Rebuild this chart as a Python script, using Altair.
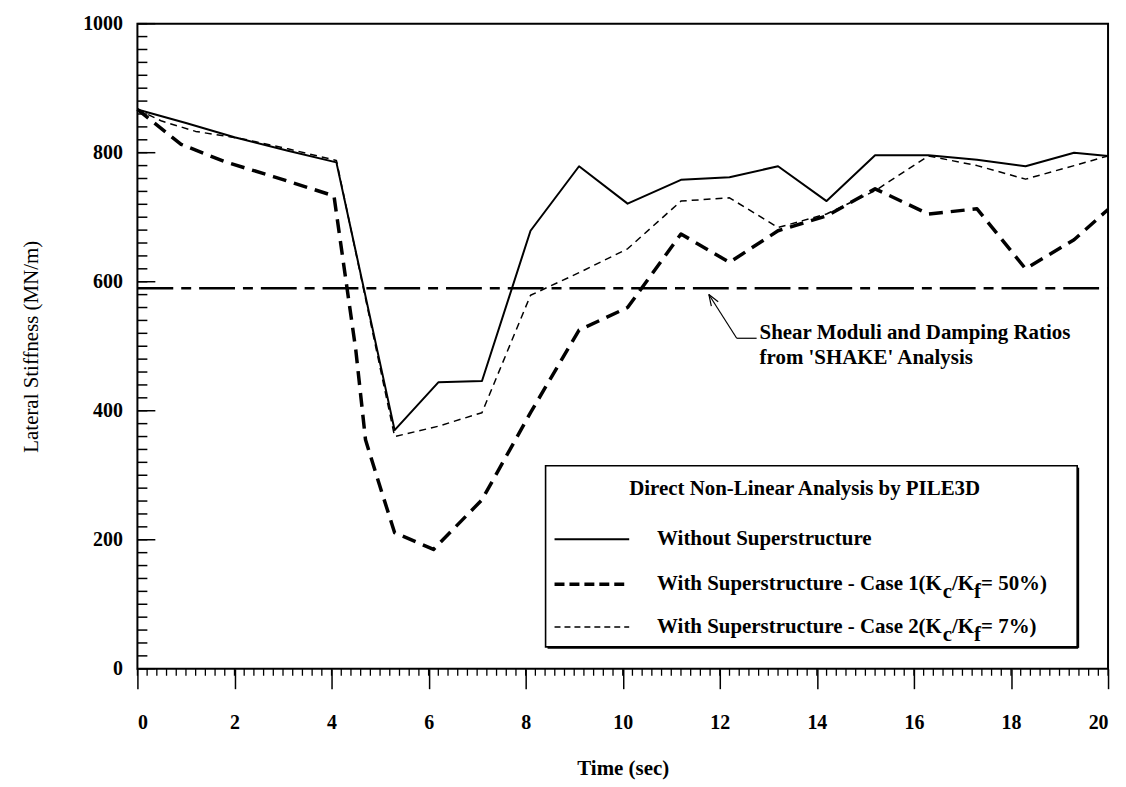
import altair as alt
import pandas as pd

# ---------------- data ----------------
solid_t = [0, 1.0, 2.0, 3.1, 4.1, 5.3, 6.2, 7.1, 8.1, 9.1, 10.1, 11.2, 12.2, 13.2, 14.2, 15.2, 16.3, 17.3, 18.3, 19.3, 20.0]
solid_v = [867, 846, 824, 803, 785, 370, 444, 446, 679, 779, 721, 758, 762, 779, 725, 796, 796, 789, 779, 800, 795]

case1_t = [0, 0.3, 0.9, 1.8, 2.8, 4.05, 4.5, 4.7, 5.0, 5.3, 6.1, 7.1, 8.1, 9.1, 10.1, 11.2, 12.2, 13.2, 14.2, 15.2, 16.3, 17.3, 18.3, 19.3, 20.0]
case1_v = [867, 849, 813, 786, 763, 733, 494, 355, 282, 211, 185, 262, 397, 525, 560, 674, 630, 679, 702, 744, 705, 713, 620, 665, 712]

case2_t = [0, 0.5, 1.2, 2.2, 3.1, 4.1, 5.3, 6.2, 7.1, 8.1, 9.1, 10.1, 11.2, 12.2, 13.2, 14.2, 15.2, 16.3, 17.3, 18.3, 19.3, 20.0]
case2_v = [867, 849, 833, 821, 806, 788, 360, 376, 397, 579, 614, 651, 725, 730, 684, 705, 741, 795, 780, 759, 780, 795]

shake_t = [0, 20]
shake_v = [590, 590]

x_major = [0, 2, 4, 6, 8, 10, 12, 14, 16, 18, 20]
x_minor = [round(i * 0.2, 1) for i in range(101)]
y_major = [0, 200, 400, 600, 800, 1000]
y_minor = list(range(0, 1001, 20))

legend_title = "Direct Non-Linear Analysis by PILE3D"
legend_row1 = "Without Superstructure"
legend_row2 = ["With Superstructure - Case 1(K", "c", "/K", "f", "= 50%)"]
legend_row3 = ["With Superstructure - Case 2(K", "c", "/K", "f", "= 7%)"]
note_lines = ["Shear Moduli and Damping Ratios", "from 'SHAKE' Analysis"]

# ---------------- style ----------------
FONT = "Liberation Serif"
W, H = 975, 648
xs = alt.Scale(domain=[0, 20], nice=False, zero=False)
ys = alt.Scale(domain=[0, 1000], nice=False)

# Times-Bold advance widths (per 1000 em) used to chain sub-scripted pieces
TB = {" ": 250, "(": 333, ")": 333, "-": 333, "/": 278, "=": 570, "%": 1000,
      "0": 500, "1": 500, "2": 500, "3": 500, "4": 500, "5": 500, "6": 500, "7": 500, "8": 500, "9": 500,
      "C": 722, "K": 778, "S": 556, "W": 1000, "a": 500, "c": 444, "e": 444, "f": 333, "h": 556,
      "i": 278, "p": 556, "r": 444, "s": 389, "t": 333, "u": 556, "o": 500}


def tw(s, size):
    return sum(TB.get(ch, 500) for ch in s) * size / 1000.0


x_axis = alt.Axis(
    values=x_major, format="d", grid=False, domain=False,
    tickSize=20, tickWidth=1.5, tickColor="black",
    labelFont=FONT, labelFontSize=20, labelFontWeight="bold", labelColor="black", labelPadding=24,
    title="Time (sec)", titleFont=FONT, titleFontSize=21, titleFontWeight="bold", titleColor="black",
    titleX=W / 2, titleY=100, titleBaseline="middle",
)
y_axis = alt.Axis(
    values=y_major, format="d", grid=False, domain=False, ticks=False, tickSize=0,
    labelFont=FONT, labelFontSize=20, labelFontWeight="bold", labelColor="black", labelPadding=15,
    title="Lateral Stiffness (MN/m)", titleFont=FONT, titleFontSize=21, titleFontWeight="normal",
    titleColor="black", titleX=-106, titleY=H / 2, titleBaseline="middle", titleAngle=270,
)


def X(field="t"):
    return alt.X(f"{field}:Q", scale=xs, axis=x_axis)


def Y(field="v"):
    return alt.Y(f"{field}:Q", scale=ys, axis=y_axis)


one = pd.DataFrame({"k": [0]})


def line_layer(t, v, width, dash=None):
    df = pd.DataFrame({"t": t, "v": v})
    kw = dict(color="black", strokeWidth=width, strokeJoin="round")
    if dash:
        kw["strokeDash"] = dash
    return alt.Chart(df).mark_line(**kw).encode(x=X(), y=Y())


def rule(x1, y1, x2, y2, w=1.3, dash=None):
    kw = dict(color="black", strokeWidth=w)
    if dash:
        kw["strokeDash"] = dash
    return alt.Chart(one).mark_rule(**kw).encode(
        x=alt.value(x1), y=alt.value(y1), x2=alt.value(x2), y2=alt.value(y2))


def txt(s, x, y, size=21, bold=True, align="left"):
    return alt.Chart(pd.DataFrame({"s": [s]})).mark_text(
        font=FONT, fontSize=size, fontWeight="bold" if bold else "normal",
        align=align, baseline="middle", color="black"
    ).encode(x=alt.value(x), y=alt.value(y), text="s:N")


# ---------------- layers ----------------
shake = line_layer(shake_t, shake_v, 2.5, [36, 8, 10, 8])

y_minor_ticks = alt.Chart(pd.DataFrame({"v": y_minor})).mark_rule(color="black", strokeWidth=1.5).encode(
    y=Y(), x=alt.value(0), x2=alt.value(10))
y_major_ticks = alt.Chart(pd.DataFrame({"v": y_major})).mark_rule(color="black", strokeWidth=1.5).encode(
    y=Y(), x=alt.value(0), x2=alt.value(18))
x_minor_ticks = alt.Chart(pd.DataFrame({"t": x_minor})).mark_rule(color="black", strokeWidth=1.3).encode(
    x=X(), y=alt.value(H), y2=alt.value(H + 7))

solid = line_layer(solid_t, solid_v, 2)
case1 = line_layer(case1_t, case1_v, 3.5, [14, 8])
case2 = line_layer(case2_t, case2_v, 1.5, [7, 5])

# ---------------- annotation ----------------
tip_x, tip_y = 574, 272
elb_x, elb_y = 602, 316
annot = [
    rule(elb_x, elb_y, tip_x, tip_y, 1.2),
    rule(elb_x, elb_y, 622, elb_y, 1.2),
    rule(tip_x, tip_y, tip_x + 2.5, tip_y + 11.7, 1.2),
    rule(tip_x, tip_y, tip_x + 9.4, tip_y + 7.4, 1.2),
    txt(note_lines[0], 625, 311),
    txt(note_lines[1], 625, 336),
]

# ---------------- legend (drawn by hand to allow subscripts) ----------------
LX0, LX1, LY0, LY1 = 410, 944, 444, 626
box = alt.Chart(one).mark_rect(fill="white", stroke="black", strokeWidth=1.6).encode(
    x=alt.value(LX0), x2=alt.value(LX1), y=alt.value(LY0), y2=alt.value(LY1))
shadow = [rule(LX0 + 2, LY1 + 1, LX1 + 1, LY1 + 1, 2), rule(LX1 + 1, LY0 + 2, LX1 + 1, LY1 + 1, 2)]

SX0, SX1 = 419, 494
TX = 522
FS = 21
rows_y = [518, 563, 606]
legend_layers = [
    box, *shadow,
    txt(legend_title, 494, 467, FS),
    rule(SX0, rows_y[0], SX1, rows_y[0], 2),
    rule(SX0, rows_y[1], SX1, rows_y[1], 3.5, [10, 5]),
    rule(SX0, rows_y[2], SX1, rows_y[2], 1.5, [6, 4]),
    txt(legend_row1, TX, rows_y[0], FS),
]
for pieces, yy in ((legend_row2, rows_y[1]), (legend_row3, rows_y[2])):
    xx = TX
    for i, p in enumerate(pieces):
        sub = i in (1, 3)
        legend_layers.append(txt(p, xx, yy + (8 if sub else 0), FS))
        xx += tw(p, FS)

chart = alt.layer(
    shake, y_minor_ticks, y_major_ticks, x_minor_ticks,
    solid, case1, case2,
    *annot, *legend_layers,
).properties(
    width=W, height=H,
    padding={"left": 130, "top": 14, "right": 10, "bottom": 115},
    autosize=alt.AutoSizeParams(type="none"),
    background="white",
).configure_view(
    stroke="black", strokeWidth=2
)

chart.save("out.html", embed_options={"renderer": "svg", "actions": False})
